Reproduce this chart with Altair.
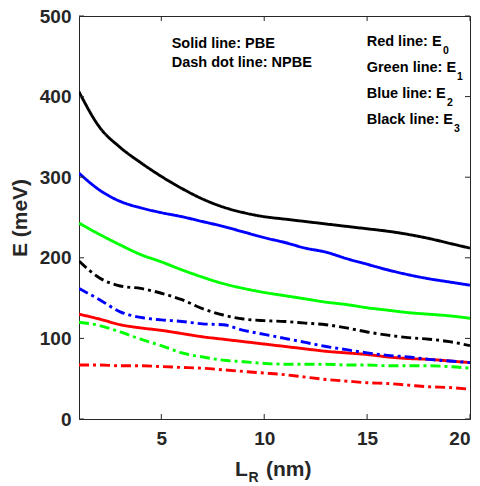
import altair as alt
import pandas as pd

# Ring length L_R (nm)
L_R = list(range(1, 21))

# Energy levels (meV), PBE (solid lines)
pbe_e0 = [130, 124, 117, 113, 110, 106, 102, 99, 96, 93, 90, 87, 84, 82, 80, 77, 75, 74, 72, 70]
pbe_e1 = [243, 229, 216, 204, 195, 185, 176, 168, 162, 157, 153, 149, 145, 142, 138, 135, 132, 130, 128, 125]
pbe_e2 = [305, 284, 270, 262, 256, 251, 245, 239, 232, 225, 219, 212, 207, 199, 192, 185, 179, 174, 170, 166]
pbe_e3 = [406, 362, 337, 318, 301, 286, 273, 263, 256, 251, 248, 245, 242, 239, 236, 233, 229, 224, 218, 212]

# Energy levels (meV), NPBE (dash-dot lines)
npbe_e0 = [67, 67, 66, 66, 65, 64, 63, 61, 59, 57, 55, 52, 49, 47, 45, 44, 42, 40, 39, 37]
npbe_e1 = [120, 116, 108, 99, 91, 82, 77, 73, 71, 69, 68, 68, 68, 67, 67, 66, 66, 66, 65, 63]
npbe_e2 = [162, 148, 133, 126, 123, 121, 118, 117, 110, 105, 100, 95, 90, 86, 82, 79, 77, 74, 72, 70]
npbe_e3 = [196, 175, 165, 162, 156, 148, 137, 129, 124, 122, 121, 119, 117, 113, 108, 104, 101, 99, 96, 91]

levels = ["E0", "E1", "E2", "E3"]
level_colors = ["#ff0000", "#00ff00", "#0000ff", "#000000"]
methods = ["PBE", "NPBE"]

x_ticks = [5, 10, 15, 20]
y_ticks = [0, 100, 200, 300, 400, 500]

series = {
    ("PBE", "E0"): pbe_e0, ("PBE", "E1"): pbe_e1,
    ("PBE", "E2"): pbe_e2, ("PBE", "E3"): pbe_e3,
    ("NPBE", "E0"): npbe_e0, ("NPBE", "E1"): npbe_e1,
    ("NPBE", "E2"): npbe_e2, ("NPBE", "E3"): npbe_e3,
}
rows = []
for (method, level), vals in series.items():
    for x, v in zip(L_R, vals):
        rows.append({"L": x, "E": v, "level": level, "method": method})
df = pd.DataFrame(rows)

W, H = 391, 403
FONT = "Liberation Sans"
INK = "#262626"

X_SCALE = alt.Scale(domain=[1, 20], nice=False, zero=False)
Y_SCALE = alt.Scale(domain=[0, 500], nice=False)
X_AXIS = alt.Axis(values=x_ticks, title=None, labelPadding=10)
Y_AXIS = alt.Axis(values=y_ticks, title="E (meV)", labelPadding=8, titlePadding=9)

lines = alt.Chart(df).mark_line(strokeWidth=2.9, interpolate="monotone", clip=True).encode(
    x=alt.X("L:Q", scale=X_SCALE, axis=X_AXIS),
    y=alt.Y("E:Q", scale=Y_SCALE, axis=Y_AXIS),
    color=alt.Color("level:N", scale=alt.Scale(domain=levels, range=level_colors), legend=None),
    strokeDash=alt.StrokeDash("method:N", scale=alt.Scale(domain=methods, range=[[1, 0], [10, 4, 3, 4]]),
                              legend=None),
    order="L:Q",
)

# Inward tick marks on all four sides of the box
xt = pd.DataFrame({"t": x_ticks})
yt = pd.DataFrame({"t": y_ticks})
tick_x_bottom = alt.Chart(xt).mark_rule(color=INK, strokeWidth=1).encode(
    x=alt.X("t:Q", scale=X_SCALE, axis=X_AXIS), y=alt.value(H), y2=alt.value(H - 5))
tick_x_top = alt.Chart(xt).mark_rule(color=INK, strokeWidth=1).encode(
    x=alt.X("t:Q", scale=X_SCALE, axis=X_AXIS), y=alt.value(0), y2=alt.value(5))
tick_y_left = alt.Chart(yt).mark_rule(color=INK, strokeWidth=1).encode(
    y=alt.Y("t:Q", scale=Y_SCALE, axis=Y_AXIS), x=alt.value(0), x2=alt.value(5))
tick_y_right = alt.Chart(yt).mark_rule(color=INK, strokeWidth=1).encode(
    y=alt.Y("t:Q", scale=Y_SCALE, axis=Y_AXIS), x=alt.value(W), x2=alt.value(W - 5))


def label(text, x, y, size, color="black"):
    return alt.Chart(alt.Data(values=[{}])).mark_text(
        text=text, align="left", baseline="alphabetic", font=FONT,
        fontSize=size, fontWeight="bold", color=color,
    ).encode(x=alt.value(x), y=alt.value(y))


notes = [
    label("Solid line: PBE", 92.7, 32, 14.5),
    label("Dash dot line: NPBE", 92.7, 51, 14.5),
    label("Red line: E", 287.7, 29.5, 14.5),
    label("0", 364, 37.5, 10.5),
    label("Green line: E", 287.7, 55.5, 14.5),
    label("1", 378, 63.5, 10.5),
    label("Blue line: E", 287.7, 81.5, 14.5),
    label("2", 368, 89.5, 10.5),
    label("Black line: E", 287.7, 107.5, 14.5),
    label("3", 375, 115.5, 10.5),
    # x-axis title with subscript
    label("L", 156, 460, 21, INK),
    label("R", 169.5, 466, 14, INK),
    label("(nm)", 187, 460, 21, INK),
]

chart = alt.layer(
    lines, tick_x_bottom, tick_x_top, tick_y_left, tick_y_right, *notes
).properties(
    width=W, height=H,
    padding={"left": 79, "top": 16, "right": 10, "bottom": 67},
    autosize=alt.AutoSizeParams(type="none"),
    background="white",
).configure_view(
    stroke=INK, strokeWidth=1,
).configure_axis(
    grid=False, ticks=False, domain=False,
    labelFont=FONT, labelFontSize=19, labelFontWeight="bold", labelColor=INK,
    titleFont=FONT, titleFontSize=21, titleFontWeight="bold", titleColor=INK,
)

chart.save("out.html", embed_options={"renderer": "svg", "actions": False})
